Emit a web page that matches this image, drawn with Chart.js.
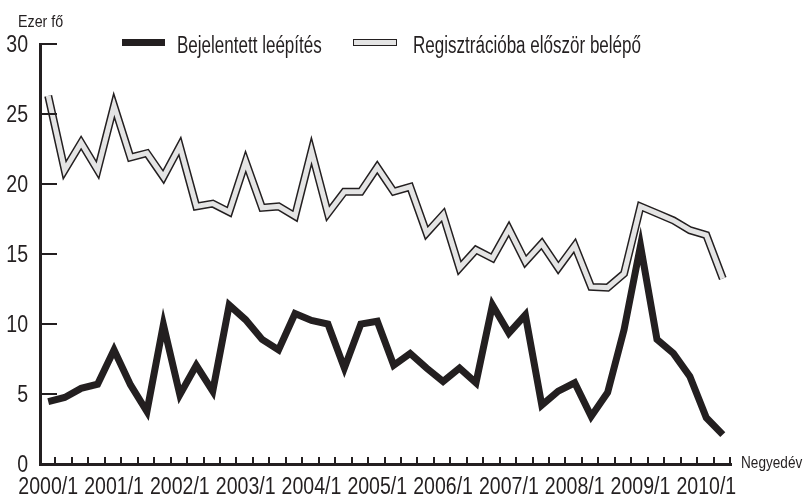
<!DOCTYPE html>
<html>
<head>
<meta charset="utf-8">
<script src="https://cdn.jsdelivr.net/npm/chart.js@4.4.1/dist/chart.umd.min.js"></script>
<style>
  html, body { margin: 0; padding: 0; background: #fff; }
  #wrap { width: 804px; height: 500px; }
</style>
</head>
<body>
<div id="wrap"><canvas id="myChart" width="804" height="500"></canvas></div>
<script>
const quarters = [
    "2000/1", "2000/2", "2000/3", "2000/4", "2001/1", "2001/2", "2001/3", "2001/4",
    "2002/1", "2002/2", "2002/3", "2002/4", "2003/1", "2003/2", "2003/3", "2003/4",
    "2004/1", "2004/2", "2004/3", "2004/4", "2005/1", "2005/2", "2005/3", "2005/4",
    "2006/1", "2006/2", "2006/3", "2006/4", "2007/1", "2007/2", "2007/3", "2007/4",
    "2008/1", "2008/2", "2008/3", "2008/4", "2009/1", "2009/2", "2009/3", "2009/4",
    "2010/1", "2010/2"
];

// Bejelentett leépítés (ezer fő)
const layoffs = [
    4.45, 4.75, 5.4, 5.7, 8.15, 5.65, 3.75, 9.95, 4.95, 7.05,
    5.2, 11.35, 10.3, 8.9, 8.15, 10.75, 10.25, 10.0, 6.85, 10.0,
    10.2, 7.05, 7.9, 6.85, 5.9, 6.85, 5.8, 11.35, 9.35, 10.65,
    4.2, 5.2, 5.8, 3.4, 5.1, 9.6, 15.6, 8.9, 7.9, 6.25,
    3.3, 2.1
];

// Regisztrációba először belépő (ezer fő)
const registered = [
    26.3, 21.0, 22.95, 21.0, 25.6, 21.9, 22.2, 20.5, 22.7, 18.4,
    18.6, 18.0, 21.6, 18.3, 18.4, 17.7, 22.35, 17.9, 19.45, 19.45,
    21.2, 19.45, 19.8, 16.5, 17.8, 14.0, 15.3, 14.7, 16.8, 14.45,
    15.75, 14.0, 15.6, 12.65, 12.6, 13.6, 18.4, 17.9, 17.4, 16.7,
    16.35, 13.25
];

const yTicks = [0, 5, 10, 15, 20, 25, 30];

const legendNames = ["Bejelentett leépítés", "Regisztrációba először belépő"];

const ink = '#231f20';
const paleGray = '#e4e4e4';
const fontFamily = "'Liberation Sans', Arial, sans-serif";

// the original uses a condensed face, so squeeze the text horizontally
function narrowText(c, text, x, y, size, squeeze, align) {
    c.save();
    c.font = size + "px " + fontFamily;
    c.textAlign = align;
    c.textBaseline = 'alphabetic';
    c.translate(x, y);
    c.scale(squeeze, 1);
    c.fillText(text, 0, 0);
    c.restore();
}

// tick marks, tick labels, axis captions and legend
const decorations = {
    id: 'decorations',
    afterDraw(chart) {
        const c = chart.ctx;
        const xs = chart.scales.x;
        const ys = chart.scales.y;
        const area = chart.chartArea;

        c.save();
        c.strokeStyle = ink;
        c.fillStyle = ink;
        c.lineWidth = 2;

        // y ticks pointing into the plot, with labels
        yTicks.forEach(v => {
            const y = Math.round(ys.getPixelForValue(v));
            if (v !== 0) {
                c.beginPath();
                c.moveTo(area.left, y);
                c.lineTo(area.left + 17, y);
                c.stroke();
            }
            narrowText(c, String(v), 28, y + 8, 23, 0.85, 'right');
        });

        // x ticks between quarters
        const step = (area.right - area.left) / quarters.length;
        for (let i = 1; i <= quarters.length; i++) {
            const x = Math.round(area.left + i * step) - 1;
            c.beginPath();
            c.moveTo(x, area.bottom);
            c.lineTo(x, area.bottom - 7);
            c.stroke();
        }

        // year labels under the first quarters
        quarters.forEach((q, i) => {
            if (q.endsWith('/1')) {
                narrowText(c, q, xs.getPixelForValue(i), 494, 23, 0.85, 'center');
            }
        });

        // captions
        narrowText(c, "Ezer fő", 18, 27, 17, 0.84, 'left');
        narrowText(c, "Negyedév", 741, 468, 17, 0.8, 'left');

        // legend
        c.fillRect(122, 39, 43, 7);
        narrowText(c, legendNames[0], 177, 53, 23, 0.74, 'left');

        c.fillStyle = paleGray;
        c.fillRect(353.5, 39.5, 43, 6);
        c.lineWidth = 1;
        c.strokeRect(353.5, 39.5, 43, 6);
        c.fillStyle = ink;
        narrowText(c, legendNames[1], 413, 53, 23, 0.74, 'left');

        c.restore();
    }
};

const ctx = document.getElementById('myChart').getContext('2d');

new Chart(ctx, {
    type: 'line',
    data: {
        labels: quarters,
        datasets: [
            {
                label: legendNames[0],
                data: layoffs,
                borderColor: ink,
                borderWidth: 7,
                pointRadius: 0,
                tension: 0,
                fill: false
            },
            {
                label: legendNames[1],
                data: registered,
                borderColor: paleGray,
                borderWidth: 5,
                pointRadius: 0,
                tension: 0,
                fill: false
            },
            {
                label: 'outline',
                data: registered,
                borderColor: ink,
                borderWidth: 8,
                pointRadius: 0,
                tension: 0,
                fill: false
            }
        ]
    },
    options: {
        responsive: false,
        animation: false,
        layout: {
            padding: { left: 0, right: 73, top: 44, bottom: 0 }
        },
        plugins: {
            legend: { display: false },
            tooltip: { enabled: false }
        },
        scales: {
            x: {
                offset: true,
                grid: { display: false },
                border: { display: true, color: ink, width: 3 },
                ticks: { display: false, autoSkip: false },
                afterFit: scale => { scale.height = 36; }
            },
            y: {
                min: 0,
                max: 30,
                grid: { display: false },
                border: { display: true, color: ink, width: 3 },
                ticks: { display: false, stepSize: 5 },
                afterFit: scale => { scale.width = 40; }
            }
        }
    },
    plugins: [decorations]
});
</script>
</body>
</html>
